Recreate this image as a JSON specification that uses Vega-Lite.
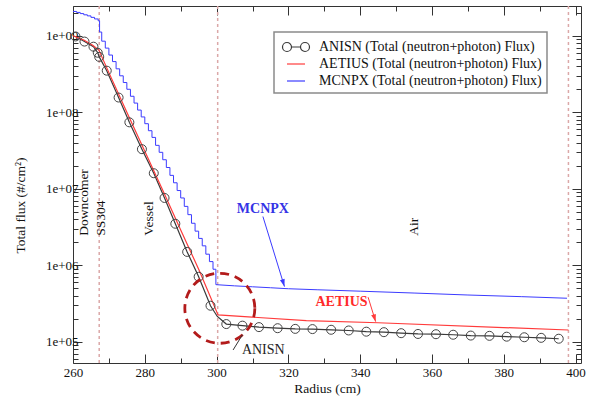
{
  "$schema": "https://vega.github.io/schema/vega-lite/v6.json",
  "width": 508,
  "height": 357,
  "autosize": {"type": "none"},
  "padding": {"left": 73, "top": 6, "right": 9, "bottom": 35},
  "background": "white",
  "datasets": {
    "curves": [
      {"series": "ANISN", "x": 260.7, "y": 980000000},
      {"series": "ANISN", "x": 263.2, "y": 840000000},
      {"series": "ANISN", "x": 265.7, "y": 720000000},
      {"series": "ANISN", "x": 266.9, "y": 600000000},
      {"series": "ANISN", "x": 267.3, "y": 530000000},
      {"series": "ANISN", "x": 269.4, "y": 350000000},
      {"series": "ANISN", "x": 272.7, "y": 156000000},
      {"series": "ANISN", "x": 275.7, "y": 74000000},
      {"series": "ANISN", "x": 279.2, "y": 33000000},
      {"series": "ANISN", "x": 282.5, "y": 16000000},
      {"series": "ANISN", "x": 285.5, "y": 7600000},
      {"series": "ANISN", "x": 288.5, "y": 3500000},
      {"series": "ANISN", "x": 291.8, "y": 1500000},
      {"series": "ANISN", "x": 295.0, "y": 710000},
      {"series": "ANISN", "x": 298.3, "y": 297000},
      {"series": "ANISN", "x": 300.2, "y": 215000},
      {"series": "ANISN", "x": 302.7, "y": 171000},
      {"series": "ANISN", "x": 307.2, "y": 163000},
      {"series": "ANISN", "x": 311.8, "y": 156000},
      {"series": "ANISN", "x": 317.0, "y": 151000},
      {"series": "ANISN", "x": 321.9, "y": 148000},
      {"series": "ANISN", "x": 326.7, "y": 147000},
      {"series": "ANISN", "x": 331.9, "y": 144000},
      {"series": "ANISN", "x": 336.8, "y": 141000},
      {"series": "ANISN", "x": 341.7, "y": 136000},
      {"series": "ANISN", "x": 346.6, "y": 134000},
      {"series": "ANISN", "x": 351.4, "y": 130000},
      {"series": "ANISN", "x": 356.1, "y": 127000},
      {"series": "ANISN", "x": 361.1, "y": 126000},
      {"series": "ANISN", "x": 365.9, "y": 124000},
      {"series": "ANISN", "x": 370.8, "y": 121000},
      {"series": "ANISN", "x": 376.0, "y": 120000},
      {"series": "ANISN", "x": 380.8, "y": 117000},
      {"series": "ANISN", "x": 385.7, "y": 115000},
      {"series": "ANISN", "x": 390.4, "y": 113000},
      {"series": "ANISN", "x": 395.3, "y": 110000},
      {"series": "AETIUS", "x": 260.0, "y": 1000000000},
      {"series": "AETIUS", "x": 263.0, "y": 880000000},
      {"series": "AETIUS", "x": 265.5, "y": 750000000},
      {"series": "AETIUS", "x": 267.2, "y": 650000000},
      {"series": "AETIUS", "x": 270.0, "y": 330000000},
      {"series": "AETIUS", "x": 275.0, "y": 100000000},
      {"series": "AETIUS", "x": 280.0, "y": 31000000},
      {"series": "AETIUS", "x": 285.0, "y": 9600000},
      {"series": "AETIUS", "x": 290.0, "y": 2900000},
      {"series": "AETIUS", "x": 295.1, "y": 870000},
      {"series": "AETIUS", "x": 300.4, "y": 225000},
      {"series": "AETIUS", "x": 325.0, "y": 190000},
      {"series": "AETIUS", "x": 345.0, "y": 178000},
      {"series": "AETIUS", "x": 398.0, "y": 143000}
    ],
    "mcnpx": [
      {"x": 260, "y": 2080000000}, {"x": 261, "y": 2020000000}, {"x": 262, "y": 1950000000},
      {"x": 263, "y": 1880000000}, {"x": 264, "y": 1820000000}, {"x": 265, "y": 1740000000},
      {"x": 266, "y": 1660000000}, {"x": 267, "y": 1570000000}, {"x": 267.4, "y": 1120000000},
      {"x": 268, "y": 850000000}, {"x": 269, "y": 690000000}, {"x": 270, "y": 560000000},
      {"x": 271, "y": 460000000}, {"x": 272, "y": 370000000}, {"x": 273, "y": 300000000},
      {"x": 274, "y": 245000000}, {"x": 275, "y": 200000000}, {"x": 276, "y": 162000000},
      {"x": 277, "y": 132000000}, {"x": 278, "y": 107000000}, {"x": 279, "y": 87000000},
      {"x": 280, "y": 71000000}, {"x": 281, "y": 57500000}, {"x": 282, "y": 47000000},
      {"x": 283, "y": 37000000}, {"x": 284, "y": 30000000}, {"x": 285, "y": 24000000},
      {"x": 286, "y": 19000000}, {"x": 287, "y": 15000000}, {"x": 288, "y": 12000000},
      {"x": 289, "y": 9500000}, {"x": 290, "y": 7600000}, {"x": 291, "y": 5900000},
      {"x": 292, "y": 4600000}, {"x": 293, "y": 3550000}, {"x": 294, "y": 2800000},
      {"x": 295, "y": 2250000}, {"x": 296, "y": 1800000}, {"x": 297, "y": 1400000},
      {"x": 298, "y": 1120000}, {"x": 299, "y": 890000}, {"x": 299.8, "y": 560000}
    ],
    "mcnpxAir": [
      {"x": 299.8, "y": 560000}, {"x": 305, "y": 540000}, {"x": 310, "y": 525000},
      {"x": 315, "y": 510000}, {"x": 320, "y": 495000}, {"x": 328, "y": 480000},
      {"x": 340, "y": 460000}, {"x": 355, "y": 435000}, {"x": 370, "y": 410000},
      {"x": 385, "y": 390000}, {"x": 397.6, "y": 372000}
    ],
    "anisnPoints": [
      {"x": 260.7, "y": 980000000}, {"x": 263.2, "y": 840000000}, {"x": 265.7, "y": 720000000},
      {"x": 266.9, "y": 600000000}, {"x": 267.3, "y": 530000000}, {"x": 269.4, "y": 350000000},
      {"x": 272.7, "y": 156000000}, {"x": 275.7, "y": 74000000}, {"x": 279.2, "y": 33000000},
      {"x": 282.5, "y": 16000000}, {"x": 285.5, "y": 7600000}, {"x": 288.5, "y": 3500000},
      {"x": 291.8, "y": 1500000}, {"x": 295.0, "y": 710000}, {"x": 298.3, "y": 297000},
      {"x": 302.7, "y": 171000}, {"x": 307.2, "y": 163000}, {"x": 311.8, "y": 156000},
      {"x": 317.0, "y": 151000}, {"x": 321.9, "y": 148000}, {"x": 326.7, "y": 147000},
      {"x": 331.9, "y": 144000}, {"x": 336.8, "y": 141000}, {"x": 341.7, "y": 136000},
      {"x": 346.6, "y": 134000}, {"x": 351.4, "y": 130000}, {"x": 356.1, "y": 127000},
      {"x": 361.1, "y": 126000}, {"x": 365.9, "y": 124000}, {"x": 370.8, "y": 121000},
      {"x": 376.0, "y": 120000}, {"x": 380.8, "y": 117000}, {"x": 385.7, "y": 115000},
      {"x": 390.4, "y": 113000}, {"x": 395.3, "y": 110000}
    ]
  },
  "layer": [
    {
      "data": {"values": [{"x": 267.3}, {"x": 300.3}, {"x": 398.0}]},
      "mark": {"type": "rule", "color": "#dba8a8", "strokeWidth": 1.5, "strokeDash": [3, 3]},
      "encoding": {
        "x": {"field": "x", "type": "quantitative",
          "scale": {"domain": [260, 401.5], "nice": false, "zero": false},
          "axis": {"orient": "top", "values": [260, 270, 280, 290, 300, 310, 320, 330, 340, 350, 360, 370, 380, 390, 400],
            "labels": false, "title": null,
            "tickSize": {"condition": {"test": "datum.value % 20 === 0", "value": -9}, "value": -5}}}
      }
    },
    {
      "data": {"name": "mcnpx"},
      "mark": {"type": "line", "interpolate": "step-after", "strokeWidth": 1},
      "encoding": {
        "x": {"field": "x", "type": "quantitative",
          "scale": {"domain": [260, 401.5], "nice": false, "zero": false},
          "axis": {"orient": "bottom", "title": "Radius (cm)",
            "values": [260, 270, 280, 290, 300, 310, 320, 330, 340, 350, 360, 370, 380, 390, 400],
            "labelExpr": "datum.value % 20 === 0 ? datum.label : ''",
            "labelFlush": false,
            "labelPadding": 12, "titleY": 25, "titleBaseline": "middle",
            "tickSize": {"condition": {"test": "datum.value % 20 === 0", "value": -9}, "value": -5}}},
        "y": {"field": "y", "type": "quantitative",
          "scale": {"type": "log", "domain": [53000, 2450000000], "nice": false},
          "axis": {"orient": "left", "title": "Total flux (#/cm²)",
            "values": [60000, 70000, 80000, 90000, 100000, 200000, 300000, 400000, 500000, 600000, 700000, 800000, 900000, 1000000, 2000000, 3000000, 4000000, 5000000, 6000000, 7000000, 8000000, 9000000, 10000000, 20000000, 30000000, 40000000, 50000000, 60000000, 70000000, 80000000, 90000000, 100000000, 200000000, 300000000, 400000000, 500000000, 600000000, 700000000, 800000000, 900000000, 1000000000, 2000000000],
            "labelExpr": "indexof([100000, 1000000, 10000000, 100000000, 1000000000], datum.value) >= 0 ? '1e+0' + format(log(datum.value) / LN10, '.0f') : ''",
            "labelFlush": false,
            "labelPadding": 4, "titleX": -53, "titleY": 199, "titleBaseline": "middle",
            "tickSize": {"condition": {"test": "indexof([100000, 1000000, 10000000, 100000000, 1000000000], datum.value) >= 0", "value": -9}, "value": -5}}},
        "color": {"datum": "MCNPX", "type": "nominal",
          "scale": {"domain": ["ANISN", "AETIUS", "MCNPX"], "range": ["#3a3a3a", "#ff3b3b", "#3b3bff"]},
          "legend": {"title": null, "labelLimit": 0, "labelExpr": "datum.label + ' (Total (neutron+photon) Flux)'"}}
      }
    },
    {
      "data": {"name": "mcnpxAir"},
      "mark": {"type": "line", "strokeWidth": 1},
      "encoding": {
        "x": {"field": "x", "type": "quantitative", "scale": {"domain": [260, 401.5], "nice": false, "zero": false}, "axis": null},
        "y": {"field": "y", "type": "quantitative", "scale": {"type": "log", "domain": [53000, 2450000000], "nice": false}, "axis": null},
        "color": {"datum": "MCNPX", "type": "nominal",
          "scale": {"domain": ["ANISN", "AETIUS", "MCNPX"], "range": ["#3a3a3a", "#ff3b3b", "#3b3bff"]},
          "legend": {"title": null, "labelLimit": 0, "labelExpr": "datum.label + ' (Total (neutron+photon) Flux)'"}}
      }
    },
    {
      "data": {"name": "curves"},
      "mark": {"type": "line", "strokeWidth": 1.2},
      "encoding": {
        "x": {"field": "x", "type": "quantitative",
          "scale": {"domain": [260, 401.5], "nice": false, "zero": false}, "axis": null},
        "y": {"field": "y", "type": "quantitative",
          "scale": {"type": "log", "domain": [53000, 2450000000], "nice": false},
          "axis": {"orient": "right", "labels": false, "title": null,
            "values": [60000, 70000, 80000, 90000, 100000, 200000, 300000, 400000, 500000, 600000, 700000, 800000, 900000, 1000000, 2000000, 3000000, 4000000, 5000000, 6000000, 7000000, 8000000, 9000000, 10000000, 20000000, 30000000, 40000000, 50000000, 60000000, 70000000, 80000000, 90000000, 100000000, 200000000, 300000000, 400000000, 500000000, 600000000, 700000000, 800000000, 900000000, 1000000000, 2000000000],
            "tickSize": {"condition": {"test": "indexof([100000, 1000000, 10000000, 100000000, 1000000000], datum.value) >= 0", "value": -9}, "value": -5}}},
        "color": {"field": "series", "type": "nominal",
          "scale": {"domain": ["ANISN", "AETIUS", "MCNPX"], "range": ["#3a3a3a", "#ff3b3b", "#3b3bff"]},
          "legend": {"title": null, "labelLimit": 0, "labelExpr": "datum.label + ' (Total (neutron+photon) Flux)'"}}
      }
    },
    {
      "data": {"name": "anisnPoints"},
      "mark": {"type": "point", "shape": "circle", "filled": false, "size": 81, "stroke": "#444444", "strokeWidth": 1, "opacity": 1},
      "encoding": {
        "x": {"field": "x", "type": "quantitative", "scale": {"domain": [260, 401.5], "nice": false, "zero": false}, "axis": null},
        "y": {"field": "y", "type": "quantitative", "scale": {"type": "log", "domain": [53000, 2450000000], "nice": false}, "axis": null}
      }
    },
    {
      "data": {"values": [
        {"series": "ANISN", "x": 330, "y": 1000000},
        {"series": "AETIUS", "x": 330, "y": 1000000},
        {"series": "MCNPX", "x": 330, "y": 1000000}
      ]},
      "mark": {"type": "point", "filled": false, "opacity": 0},
      "encoding": {
        "x": {"field": "x", "type": "quantitative", "scale": {"domain": [260, 401.5], "nice": false, "zero": false}, "axis": null},
        "y": {"field": "y", "type": "quantitative", "scale": {"type": "log", "domain": [53000, 2450000000], "nice": false}, "axis": null},
        "color": {"field": "series", "type": "nominal",
          "scale": {"domain": ["ANISN", "AETIUS", "MCNPX"], "range": ["#3a3a3a", "#ff3b3b", "#3b3bff"]},
          "legend": {"title": null, "labelLimit": 0, "labelExpr": "datum.label + ' (Total (neutron+photon) Flux)'"}},
        "shape": {"field": "series", "type": "nominal",
          "scale": {"domain": ["ANISN", "AETIUS", "MCNPX"],
            "range": ["M -0.5 0 L 0.5 0 M -0.5 0 A 0.5 0.5 0 1 1 -1.5 0 A 0.5 0.5 0 1 1 -0.5 0 M 1.5 0 A 0.5 0.5 0 1 1 0.5 0 A 0.5 0.5 0 1 1 1.5 0", "stroke", "stroke"]},
          "legend": {"title": null, "labelLimit": 0, "labelExpr": "datum.label + ' (Total (neutron+photon) Flux)'"}}
      }
    },
    {
      "data": {"values": [{"x": 300.9, "y": 275000}]},
      "mark": {"type": "point", "shape": "circle", "filled": false, "size": 4900, "stroke": "#b31b1b", "strokeWidth": 2.8, "strokeDash": [9, 6], "opacity": 1},
      "encoding": {
        "x": {"field": "x", "type": "quantitative", "scale": {"domain": [260, 401.5], "nice": false, "zero": false}, "axis": null},
        "y": {"field": "y", "type": "quantitative", "scale": {"type": "log", "domain": [53000, 2450000000], "nice": false}, "axis": null}
      }
    },
    {
      "data": {"values": [
        {"x": 263.2, "y": 2430000, "t": "Downcomer"},
        {"x": 267.7, "y": 2430000, "t": "SS304"},
        {"x": 281.3, "y": 2430000, "t": "Vessel"},
        {"x": 355.0, "y": 2430000, "t": "Air"}
      ]},
      "mark": {"type": "text", "angle": 270, "align": "left", "baseline": "middle", "font": "Liberation Serif", "fontSize": 13.5, "color": "#111111"},
      "encoding": {
        "x": {"field": "x", "type": "quantitative", "scale": {"domain": [260, 401.5], "nice": false, "zero": false}, "axis": null},
        "y": {"field": "y", "type": "quantitative", "scale": {"type": "log", "domain": [53000, 2450000000], "nice": false}, "axis": null},
        "text": {"field": "t"}
      }
    },
    {
      "data": {"values": [{"x": 312.9, "y": 5480000, "t": "MCNPX"}]},
      "mark": {"type": "text", "align": "center", "baseline": "middle", "font": "Liberation Serif", "fontSize": 14, "fontWeight": "bold", "color": "#3434e6"},
      "encoding": {
        "x": {"field": "x", "type": "quantitative", "scale": {"domain": [260, 401.5], "nice": false, "zero": false}, "axis": null},
        "y": {"field": "y", "type": "quantitative", "scale": {"type": "log", "domain": [53000, 2450000000], "nice": false}, "axis": null},
        "text": {"field": "t"}
      }
    },
    {
      "data": {"values": [{"x": 334.8, "y": 328000, "t": "AETIUS"}]},
      "mark": {"type": "text", "align": "center", "baseline": "middle", "font": "Liberation Serif", "fontSize": 14, "fontWeight": "bold", "color": "#ff2a2a"},
      "encoding": {
        "x": {"field": "x", "type": "quantitative", "scale": {"domain": [260, 401.5], "nice": false, "zero": false}, "axis": null},
        "y": {"field": "y", "type": "quantitative", "scale": {"type": "log", "domain": [53000, 2450000000], "nice": false}, "axis": null},
        "text": {"field": "t"}
      }
    },
    {
      "data": {"values": [{"x": 313.0, "y": 78500, "t": "ANISN"}]},
      "mark": {"type": "text", "align": "center", "baseline": "middle", "font": "Liberation Serif", "fontSize": 14, "color": "#222222"},
      "encoding": {
        "x": {"field": "x", "type": "quantitative", "scale": {"domain": [260, 401.5], "nice": false, "zero": false}, "axis": null},
        "y": {"field": "y", "type": "quantitative", "scale": {"type": "log", "domain": [53000, 2450000000], "nice": false}, "axis": null},
        "text": {"field": "t"}
      }
    },
    {
      "data": {"values": [{"x": 312.9, "y": 4350000, "x2": 318.9, "y2": 528000}]},
      "mark": {"type": "rule", "color": "#3b3bff", "strokeWidth": 1},
      "encoding": {
        "x": {"field": "x", "type": "quantitative", "scale": {"domain": [260, 401.5], "nice": false, "zero": false}, "axis": null},
        "y": {"field": "y", "type": "quantitative", "scale": {"type": "log", "domain": [53000, 2450000000], "nice": false}, "axis": null},
        "x2": {"field": "x2"},
        "y2": {"field": "y2"}
      }
    },
    {
      "data": {"values": [{"x": 342.2, "y": 384000, "x2": 344.3, "y2": 184000}]},
      "mark": {"type": "rule", "color": "#ff3b3b", "strokeWidth": 1},
      "encoding": {
        "x": {"field": "x", "type": "quantitative", "scale": {"domain": [260, 401.5], "nice": false, "zero": false}, "axis": null},
        "y": {"field": "y", "type": "quantitative", "scale": {"type": "log", "domain": [53000, 2450000000], "nice": false}, "axis": null},
        "x2": {"field": "x2"},
        "y2": {"field": "y2"}
      }
    },
    {
      "data": {"values": [{"x": 304.6, "y": 78500, "x2": 307.2, "y2": 124000}]},
      "mark": {"type": "rule", "color": "#333333", "strokeWidth": 1},
      "encoding": {
        "x": {"field": "x", "type": "quantitative", "scale": {"domain": [260, 401.5], "nice": false, "zero": false}, "axis": null},
        "y": {"field": "y", "type": "quantitative", "scale": {"type": "log", "domain": [53000, 2450000000], "nice": false}, "axis": null},
        "x2": {"field": "x2"},
        "y2": {"field": "y2"}
      }
    },
    {
      "data": {"values": [{"x": 318.9, "y": 528000}]},
      "mark": {"type": "point", "shape": "M 0 0 L -0.4 -1.2 L 0.4 -1.2 Z", "filled": true, "size": 150, "color": "#3b3bff", "opacity": 1, "angle": 343},
      "encoding": {
        "x": {"field": "x", "type": "quantitative", "scale": {"domain": [260, 401.5], "nice": false, "zero": false}, "axis": null},
        "y": {"field": "y", "type": "quantitative", "scale": {"type": "log", "domain": [53000, 2450000000], "nice": false}, "axis": null}
      }
    },
    {
      "data": {"values": [{"x": 344.3, "y": 184000}]},
      "mark": {"type": "point", "shape": "M 0 0 L -0.4 -1.2 L 0.4 -1.2 Z", "filled": true, "size": 150, "color": "#ff3b3b", "opacity": 1, "angle": 343},
      "encoding": {
        "x": {"field": "x", "type": "quantitative", "scale": {"domain": [260, 401.5], "nice": false, "zero": false}, "axis": null},
        "y": {"field": "y", "type": "quantitative", "scale": {"type": "log", "domain": [53000, 2450000000], "nice": false}, "axis": null}
      }
    }
  ],
  "resolve": {"axis": {"x": "independent", "y": "independent"}},
  "config": {
    "view": {"stroke": "#333333", "strokeWidth": 1},
    "font": "Liberation Serif",
    "axis": {
      "domain": false, "grid": false,
      "labelFont": "Liberation Serif", "labelFontSize": 13, "labelColor": "#111111",
      "titleFont": "Liberation Serif", "titleFontSize": 13.5, "titleFontWeight": "normal", "titleColor": "#111111",
      "tickColor": "#333333", "tickWidth": 1
    },
    "legend": {
      "orient": "none", "legendX": 201, "legendY": 26,
      "labelFont": "Liberation Serif", "labelFontSize": 14, "labelColor": "#111111", "labelLimit": 0,
      "symbolSize": 324, "symbolStrokeWidth": 1.2, "symbolOpacity": 1,
      "symbolFillColor": "transparent",
      "symbolOffset": 7, "labelOffset": 13,
      "rowPadding": -1, "padding": 5,
      "strokeColor": "#8a8a8a", "strokeWidth": 1.5, "fillColor": "white"
    }
  }
}
